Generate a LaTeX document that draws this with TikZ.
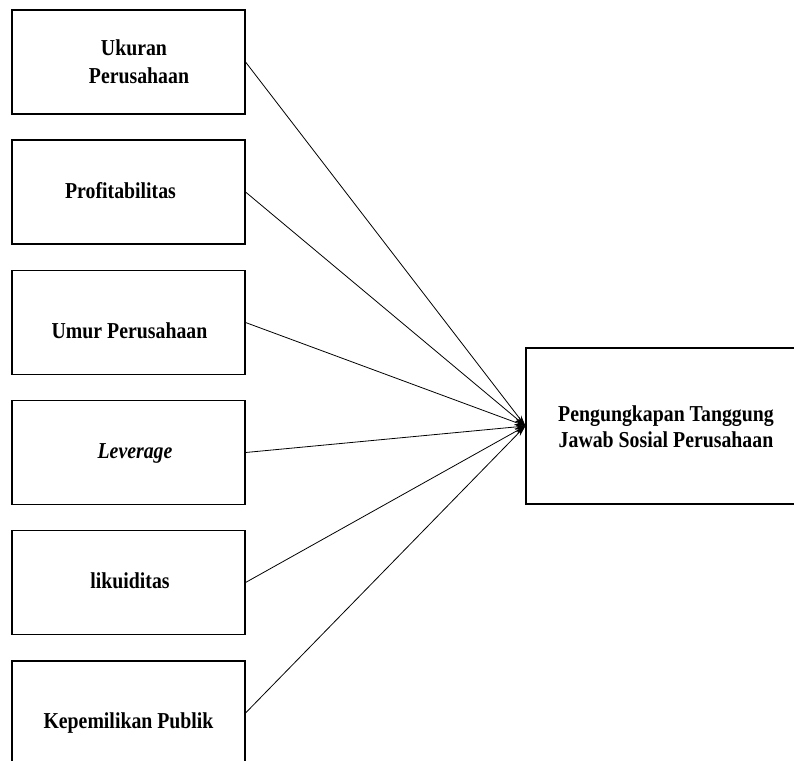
\documentclass[tikz,border=0pt]{standalone}
\usepackage{fontspec}
\usepackage{graphicx}
\setmainfont{Liberation Serif}
\usetikzlibrary{arrows.meta}
\newcommand{\tallt}[1]{\scalebox{1}[1.15]{#1}}
\tikzset{
  box/.style={draw=black, line width=1.1pt, rectangle, inner sep=0pt},
  leftbox/.style={box, minimum width=233pt, minimum height=104pt},
  lbl/.style={anchor=base, inner sep=0pt, font=\fontsize{19.8pt}{27pt}\selectfont\bfseries},
  conn/.style={draw=black, line width=0.8pt, -{Stealth[length=11pt,width=6pt]}}
}
\begin{document}
\begin{tikzpicture}[x=1pt,y=-1pt]
\useasboundingbox (0,0) rectangle (794,760);
\clip (0,0) rectangle (794,760);
% left boxes
\node[leftbox] (b1) at (128.5,62) {};
\node[leftbox] (b2) at (128.5,192) {};
\node[leftbox] (b3) at (128.5,322.5) {};
\node[leftbox] (b4) at (128.5,452.5) {};
\node[leftbox] (b5) at (128.5,582.5) {};
\node[leftbox] (b6) at (128.5,713) {};
% right box
\node[box, minimum width=280pt, minimum height=156pt] (y) at (666,426) {};
% labels
\node[lbl] (t1a) at (134,56) {\tallt{Ukuran}};
\node[lbl] (t1b) at (139,83) {\tallt{Perusahaan}};
\node[lbl] (t2) at (120.5,198) {\tallt{Profitabilitas}};
\node[lbl] (t3) at (129.5,338) {\tallt{Umur Perusahaan}};
\node[lbl] (t4) at (135,458) {\tallt{\itshape Leverage}};
\node[lbl] (t5) at (130,588) {\tallt{likuiditas}};
\node[lbl] (t6) at (128.5,728) {\tallt{Kepemilikan Publik}};
\node[lbl] (ya) at (666,421) {\tallt{Pengungkapan Tanggung}};
\node[lbl] (yb) at (666,447) {\tallt{Jawab Sosial Perusahaan}};
% connectors
\foreach \b in {b1,b2,b3,b4,b5,b6}
  \draw[conn] (\b.east) -- (y.west);
\end{tikzpicture}
\end{document}
